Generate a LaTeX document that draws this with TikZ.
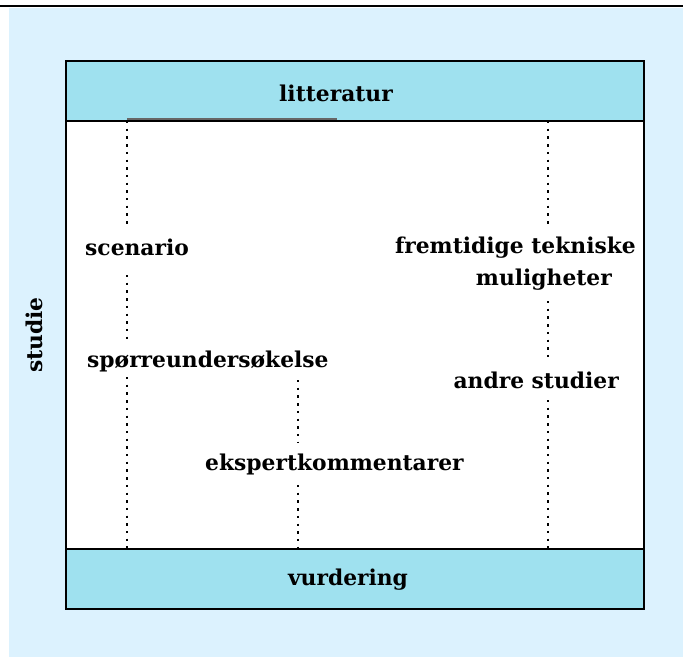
\documentclass[tikz,border=0pt]{standalone}
\usepackage{fontspec}
\setmainfont{DejaVu Serif}
\definecolor{bgblue}{HTML}{DCF2FE}
\definecolor{bandblue}{HTML}{9FE1EF}
\begin{document}
\begin{tikzpicture}[x=1pt,y=-1pt,
  lbl/.style={font=\bfseries\fontsize{21.8}{26}\selectfont,inner sep=0pt},
  band/.style={draw=black,line width=2pt,fill=bandblue},
  dots/.style={line width=2.4pt,dash pattern=on 2.4pt off 5.3pt,line cap=butt}]
\useasboundingbox (0,0) rectangle (683,657);
\fill[bgblue] (9,8) rectangle (683,657);
\draw[line width=2.5pt] (0,6) -- (683,6);
% frame
\fill[white] (66,121) rectangle (644,549);
\draw[band] (66,61) rectangle (644,121);
\draw[band] (66,549) rectangle (644,609);
\draw[line width=2pt] (66,121) -- (66,549);
\draw[line width=2pt] (644,121) -- (644,549);
\draw[line width=2pt,gray!80!black] (127,118.5) -- (337,118.5);
\node[lbl,anchor=base] (lit) at (336,101) {litteratur};
\node[lbl,anchor=base] (vur) at (348,585) {vurdering};
\node[lbl,anchor=base,rotate=90] (stu) at (42,335) {studie};
% labels
\node[lbl,anchor=base west] (scen) at (85,255) {scenario};
\node[lbl,anchor=base west] (spor) at (87,367) {spørreundersøkelse};
\node[lbl,anchor=base west] (eksp) at (205,470) {ekspertkommentarer};
\node[lbl,anchor=base east] (frem) at (636,253) {fremtidige tekniske};
\node[lbl,anchor=base east] (mul) at (612,285) {muligheter};
\node[lbl,anchor=base east] (andr) at (619,388) {andre studier};
% connector ends
\coordinate (t1) at (127,121);
\coordinate (b1) at (127,549);
\coordinate (b2) at (298,549);
\coordinate (t3) at (548,121);
\coordinate (b3) at (548,549);
\draw[dots] (t1) -- ([yshift=29pt]scen.base -| t1);
\draw[dots] ([yshift=-20pt]scen.base -| t1) -- ([yshift=28pt]spor.base -| t1);
\draw[dots] ([yshift=-10pt]spor.base -| t1) -- (b1);
\draw[dots] ([yshift=-13pt]spor.base -| b2) -- ([yshift=27pt]eksp.base -| b2);
\draw[dots] ([yshift=-15pt]eksp.base -| b2) -- (b2);
\draw[dots] (t3) -- ([yshift=29pt]frem.base -| t3);
\draw[dots] ([yshift=-16pt]mul.base -| t3) -- ([yshift=30pt]andr.base -| t3);
\draw[dots] ([yshift=-12pt]andr.base -| t3) -- (b3);
\end{tikzpicture}
\end{document}
